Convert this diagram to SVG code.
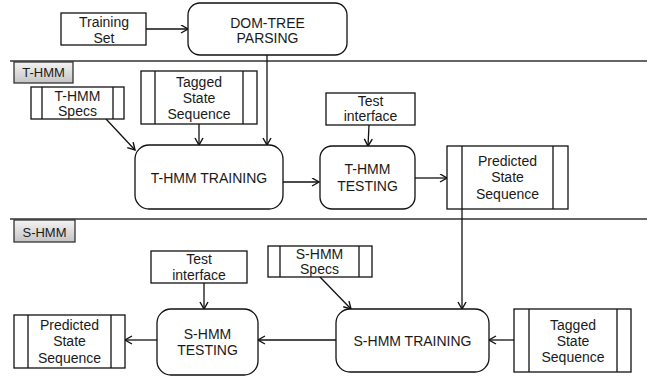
<svg xmlns="http://www.w3.org/2000/svg" width="651" height="380" viewBox="0 0 651 380">
<defs>
<linearGradient id="lbl" x1="0" y1="0" x2="0" y2="1">
<stop offset="0" stop-color="#f4f4f4"/>
<stop offset="1" stop-color="#c4c4c4"/>
</linearGradient>
<marker id="arr" markerUnits="userSpaceOnUse" markerWidth="10" markerHeight="10" refX="8" refY="4.5" orient="auto">
<path d="M1,0.5 L8,4.5 L1,8.5" fill="none" stroke="#111" stroke-width="1.4"/>
</marker>
</defs>
<style>
.b{fill:#fff;stroke:#111;stroke-width:1.3}
.r{fill:#fff;stroke:#111;stroke-width:1.3}
.l{stroke:#111;stroke-width:1.3;fill:none}
.c{stroke:#111;stroke-width:1.3;fill:none;marker-end:url(#arr)}
.d{stroke:#333;stroke-width:1.6}
.lab{fill:url(#lbl);stroke:#333;stroke-width:1.3}
text{font-family:"Liberation Sans",Arial,sans-serif;font-size:14px;fill:#1a1a1a;text-anchor:middle}
.s{font-size:13px}
</style>
<rect width="651" height="380" fill="#fff"/>
<g id="dividers">
<line class="d" x1="10" y1="61" x2="647" y2="61"/>
<line class="d" x1="10" y1="219" x2="647" y2="219"/>
</g>
<g id="label-thmm">
<rect class="lab" x="14" y="62" width="59" height="21"/>
<text class="s" x="43.5" y="77">T-HMM</text>
</g>
<g id="label-shmm">
<rect class="lab" x="14" y="220" width="61" height="22"/>
<text class="s" x="44.5" y="237">S-HMM</text>
</g>
<g id="connectors">
<path class="c" d="M146,29 L188,29"/>
<path class="c" d="M267,55 L267,145"/>
<path class="c" d="M106,119 L135,150"/>
<path class="c" d="M199,124 L199,145"/>
<path class="c" d="M283,182 L319,182"/>
<path class="c" d="M369,125 L368,146"/>
<path class="c" d="M415,178 L447,178"/>
<path class="c" d="M462,209 L462,309"/>
<path class="c" d="M320,277 L351,309"/>
<path class="c" d="M514,340 L489,340"/>
<path class="c" d="M336,340 L258,340"/>
<path class="c" d="M204,283 L204,309"/>
<path class="c" d="M157,340 L125,340"/>
</g>
<g id="training-set">
<rect class="b" x="61" y="13" width="85" height="32"/>
<text x="104" y="27">Training</text>
<text x="104" y="43">Set</text>
</g>
<g id="dom-tree">
<rect class="r" x="188" y="3" width="159" height="52" rx="12"/>
<text x="267.5" y="28">DOM-TREE</text>
<text x="267.5" y="43">PARSING</text>
</g>
<g id="thmm-specs">
<rect class="b" x="31" y="87" width="93" height="32"/>
<line class="l" x1="42" y1="87" x2="42" y2="119"/>
<line class="l" x1="113" y1="87" x2="113" y2="119"/>
<text x="77.5" y="101">T-HMM</text>
<text x="77.5" y="116">Specs</text>
</g>
<g id="tagged-top">
<rect class="b" x="141" y="71" width="116" height="53"/>
<line class="l" x1="155" y1="71" x2="155" y2="124"/>
<line class="l" x1="243" y1="71" x2="243" y2="124"/>
<text x="199" y="87">Tagged</text>
<text x="199" y="103">State</text>
<text x="199" y="119">Sequence</text>
</g>
<g id="thmm-training">
<rect class="r" x="135" y="145" width="148" height="64" rx="14"/>
<text x="209" y="183">T-HMM TRAINING</text>
</g>
<g id="test-interface-top">
<rect class="b" x="326" y="93" width="89" height="32"/>
<text x="370.5" y="106">Test</text>
<text x="370.5" y="121">interface</text>
</g>
<g id="thmm-testing">
<rect class="r" x="320" y="146" width="95" height="63" rx="12"/>
<text x="367.5" y="174">T-HMM</text>
<text x="367.5" y="191">TESTING</text>
</g>
<g id="predicted-top">
<rect class="b" x="447" y="146" width="121" height="63"/>
<line class="l" x1="462" y1="146" x2="462" y2="209"/>
<line class="l" x1="553" y1="146" x2="553" y2="209"/>
<text x="507.5" y="166">Predicted</text>
<text x="507.5" y="182">State</text>
<text x="507.5" y="199">Sequence</text>
</g>
<g id="shmm-specs">
<rect class="b" x="268" y="246" width="104" height="31"/>
<line class="l" x1="280" y1="246" x2="280" y2="277"/>
<line class="l" x1="359" y1="246" x2="359" y2="277"/>
<text x="319.5" y="259">S-HMM</text>
<text x="319.5" y="274">Specs</text>
</g>
<g id="test-interface-bottom">
<rect class="b" x="151" y="251" width="96" height="32"/>
<text x="199" y="264">Test</text>
<text x="199" y="280">interface</text>
</g>
<g id="shmm-testing">
<rect class="r" x="157" y="309" width="101" height="66" rx="14"/>
<text x="207.5" y="339">S-HMM</text>
<text x="207.5" y="355">TESTING</text>
</g>
<g id="predicted-bottom">
<rect class="b" x="14" y="315" width="111" height="53"/>
<line class="l" x1="28" y1="315" x2="28" y2="368"/>
<line class="l" x1="111" y1="315" x2="111" y2="368"/>
<text x="69.5" y="330">Predicted</text>
<text x="69.5" y="346">State</text>
<text x="69.5" y="363">Sequence</text>
</g>
<g id="shmm-training">
<rect class="r" x="336" y="309" width="153" height="63" rx="14"/>
<text x="412.5" y="346">S-HMM TRAINING</text>
</g>
<g id="tagged-bottom">
<rect class="b" x="514" y="309" width="117" height="63"/>
<line class="l" x1="529" y1="309" x2="529" y2="372"/>
<line class="l" x1="617" y1="309" x2="617" y2="372"/>
<text x="573" y="330">Tagged</text>
<text x="573" y="346">State</text>
<text x="573" y="362">Sequence</text>
</g>
</svg>
